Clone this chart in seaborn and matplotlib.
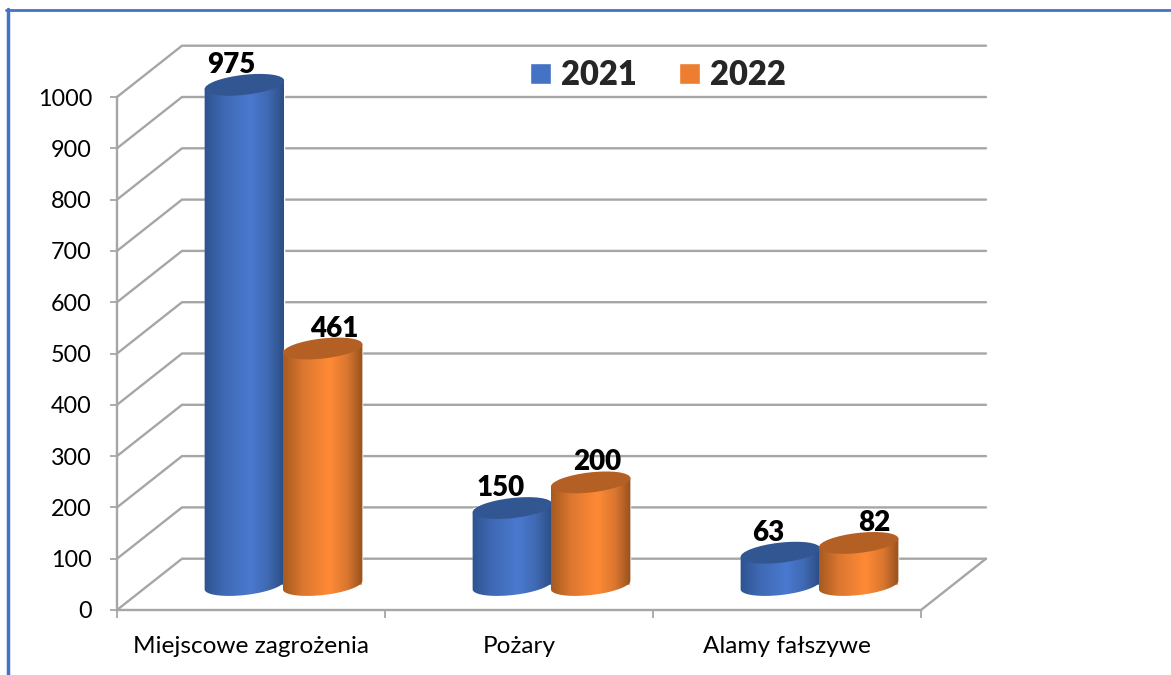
import numpy as np
import pandas as pd
import matplotlib.pyplot as plt
import seaborn as sns
from matplotlib.colors import LinearSegmentedColormap
from matplotlib.lines import Line2D
from matplotlib.patches import Ellipse
from matplotlib.path import Path
from matplotlib.transforms import Affine2D, IdentityTransform

categories = ['Miejscowe zagrożenia', 'Pożary', 'Alamy fałszywe']
values_2021 = [975, 150, 63]
values_2022 = [461, 200, 82]
y_ticks = list(range(0, 1001, 100))

# pixel nudges of the value labels, same order as the values
label_dx_2021 = [19, 21, 20]
label_dx_2022 = [44, 39, 48]

df = pd.DataFrame({
    'kategoria': categories * 2,
    'rok': ['2021'] * 3 + ['2022'] * 3,
    'liczba': values_2021 + values_2022,
})

sns.set_style('white')
plt.rcParams['font.family'] = ['Lato', 'DejaVu Sans']

W, H = 1171, 675
fig = plt.figure(figsize=(W / 100, H / 100), dpi=100)
ax = fig.add_axes([117 / W, 1 - 610 / H, (921 - 117) / W, (610 - 97) / H])

blue, orange = '#4472C4', '#ED7D31'
sns.barplot(data=df, x='kategoria', y='liczba', hue='rok', palette=[blue, orange],
            width=0.584, saturation=1, ax=ax)
ax.set_xlim(-0.5, 2.5)
ax.set_ylim(0, 1000)

# fake 3D walls
gray = '#A6A6A6'
depth_x, depth_y = 65 / 268, 100
for t in y_ticks:
    ax.plot([-0.5, -0.5 + depth_x, 2.5 + depth_x], [t, t + depth_y, t + depth_y],
            color=gray, lw=1.7, clip_on=False, zorder=1)
ax.plot([2.5, 2.5 + depth_x], [0, depth_y], color=gray, lw=1.7, clip_on=False, zorder=1)

# turn the flat bars into cylinders
body_maps = [
    LinearSegmentedColormap.from_list('b', [(0, '#2E5390'), (0.25, '#3F69B4'), (0.58, '#4A79D0'), (0.8, '#3F69B2'), (1, '#2C4E85')]),
    LinearSegmentedColormap.from_list('o', [(0, '#A65A20'), (0.25, '#DC7730'), (0.58, '#FF8A36'), (0.8, '#DC7730'), (1, '#96511E')]),
]
cap_colors = ['#315691', '#B46024']
shift = Affine2D().translate(32.5, 25)
half_w, half_h, tilt = 40, 10, np.deg2rad(6.5)
grad = np.linspace(0, 1, 256).reshape(1, -1)

for h, bars in enumerate(ax.containers):
    for bar in bars:
        bar.set_transform(ax.transData + shift)
        bar.set_clip_on(False)
        bar.set_zorder(3 + h)
        xm = bar.get_x() + bar.get_width() / 2
        top = (ax.transData + shift).transform((xm, bar.get_height()))
        base = (ax.transData + shift).transform((xm, 0))

        t = np.linspace(np.pi, 2 * np.pi, 40)
        ex = half_w * np.cos(t) * np.cos(tilt) - half_h * np.sin(t) * np.sin(tilt)
        ey = half_w * np.cos(t) * np.sin(tilt) + half_h * np.sin(t) * np.cos(tilt)
        # display y points up, so the lower half of the base runs left to right
        lower = np.column_stack([base[0] + ex, base[1] + ey])
        upper = np.array([[top[0] + half_w * np.cos(tilt), top[1] + half_w * np.sin(tilt)],
                          [top[0] - half_w * np.cos(tilt), top[1] - half_w * np.sin(tilt)]])
        poly = np.vstack([lower, upper, lower[:1]])

        im = ax.imshow(grad, cmap=body_maps[h], aspect='auto',
                       extent=(base[0] - half_w, base[0] + half_w, base[1] - 15, top[1] + 10),
                       transform=IdentityTransform(), zorder=3 + h)
        im.set_clip_box(fig.bbox)
        im.set_clip_path(Path(poly), IdentityTransform())
        ax.add_patch(Ellipse(top, 2 * half_w, 2 * half_h, angle=np.rad2deg(tilt),
                             facecolor=cap_colors[h], edgecolor='none',
                             transform=IdentityTransform(), clip_on=False, zorder=3.5 + h))

ax.set_xlim(-0.5, 2.5)
ax.set_ylim(0, 1000)

# value labels
for bars, nudges, z in zip(ax.containers, [label_dx_2021, label_dx_2022], [6, 7]):
    for bar, dx in zip(bars, nudges):
        ax.annotate(f'{bar.get_height():.0f}', xy=(bar.get_x() + bar.get_width() / 2, bar.get_height()),
                    xytext=(dx, 45), textcoords='offset pixels', ha='center', va='center',
                    fontsize=20, fontweight='heavy', color='black', annotation_clip=False, zorder=z)

# axes
sns.despine(ax=ax)
for side in ['left', 'bottom']:
    ax.spines[side].set_color(gray)
    ax.spines[side].set_linewidth(1.7)
    ax.spines[side].set_zorder(2)
ax.set_xlabel('')
ax.set_ylabel('')
ax.set_yticks(y_ticks)
ax.set_xticks([-0.5, 0.5, 1.5, 2.5], minor=True)
ax.tick_params(axis='y', length=5, width=1.3, color=gray, labelsize=16.8, labelcolor='black', pad=13, left=True)
ax.tick_params(axis='x', which='major', length=0, labelsize=17.6, labelcolor='black', pad=18.5)
ax.tick_params(axis='x', which='minor', length=6, width=1.3, color=gray, bottom=True)

# legend
handles, labels = ax.get_legend_handles_labels()
ax.legend(handles, labels, ncol=2, frameon=False, prop={'size': 23.5, 'weight': 'heavy'},
          loc='center left', bbox_to_anchor=((530 - 117) / 804, 1 - (75 - 97) / 513),
          handlelength=0.64, handleheight=0.64, handletextpad=0.3, columnspacing=1.3,
          borderaxespad=0, borderpad=0)

# frame of the picture
frame = '#4472C4'
fig.add_artist(Line2D([8 / W, 8 / W], [0, 1 - 9 / H], color=frame, lw=2.5))
fig.add_artist(Line2D([6 / W, 1], [1 - 10.3 / H, 1 - 10.3 / H], color=frame, lw=2))

fig.savefig('out.png', dpi=100)
